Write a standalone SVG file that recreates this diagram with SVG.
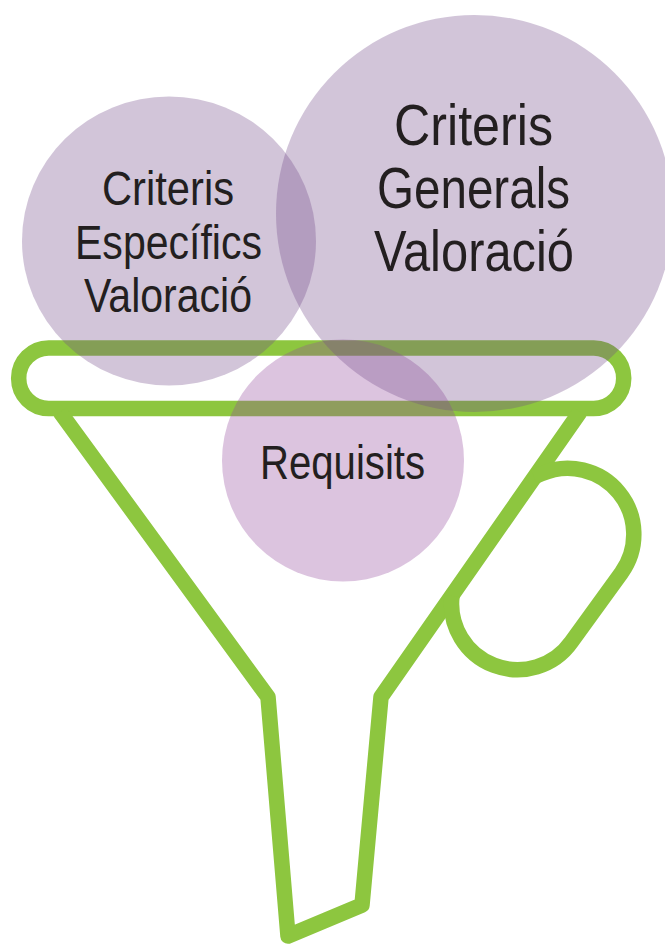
<svg xmlns="http://www.w3.org/2000/svg" width="665" height="944" viewBox="0 0 665 944">
<style>
.f{fill:none;stroke:#8dc63f;stroke-width:15.5;stroke-linejoin:round}
.c1{fill:#744a8a;fill-opacity:.32}
.c2{fill:#93499d;fill-opacity:.325}
text{font-family:"Liberation Sans",Arial,sans-serif;fill:#231f20;text-anchor:start}
.s{font-size:48px}.l{font-size:58px}
</style>
<g id="connectors">
<rect id="funnel-rim" class="f" x="18.7" y="348" width="605" height="60.5" rx="30" ry="30"/>
<path id="funnel-body" class="f" d="M60,412L268,697L288,936L362,905L381,697L580,412"/>
<path id="funnel-handle" class="f" d="M534,477L541,474A66,66 0 0 1 621.5,572.7L571.5,641.7A66,66 0 0 1 452,596"/>
</g>
<g id="node-requisits">
<circle class="c2" cx="343" cy="460.5" r="121"/>
<text class="s" x="260" y="479" textLength="165" lengthAdjust="spacingAndGlyphs">Requisits</text>
</g>
<g id="node-especifics">
<ellipse class="c1" cx="169" cy="241" rx="147" ry="144.5"/>
<text class="s" x="102" y="205" textLength="132" lengthAdjust="spacingAndGlyphs">Criteris</text>
<text class="s" x="75" y="259" textLength="187" lengthAdjust="spacingAndGlyphs">Específics</text>
<text class="s" x="84" y="312" textLength="168" lengthAdjust="spacingAndGlyphs">Valoració</text>
</g>
<g id="node-generals">
<circle class="c1" cx="474.5" cy="213.5" r="198.5"/>
<text class="l" x="394" y="145" textLength="159" lengthAdjust="spacingAndGlyphs">Criteris</text>
<text class="l" x="377" y="208" textLength="193" lengthAdjust="spacingAndGlyphs">Generals</text>
<text class="l" x="374" y="271" textLength="200" lengthAdjust="spacingAndGlyphs">Valoració</text>
</g>
</svg>
